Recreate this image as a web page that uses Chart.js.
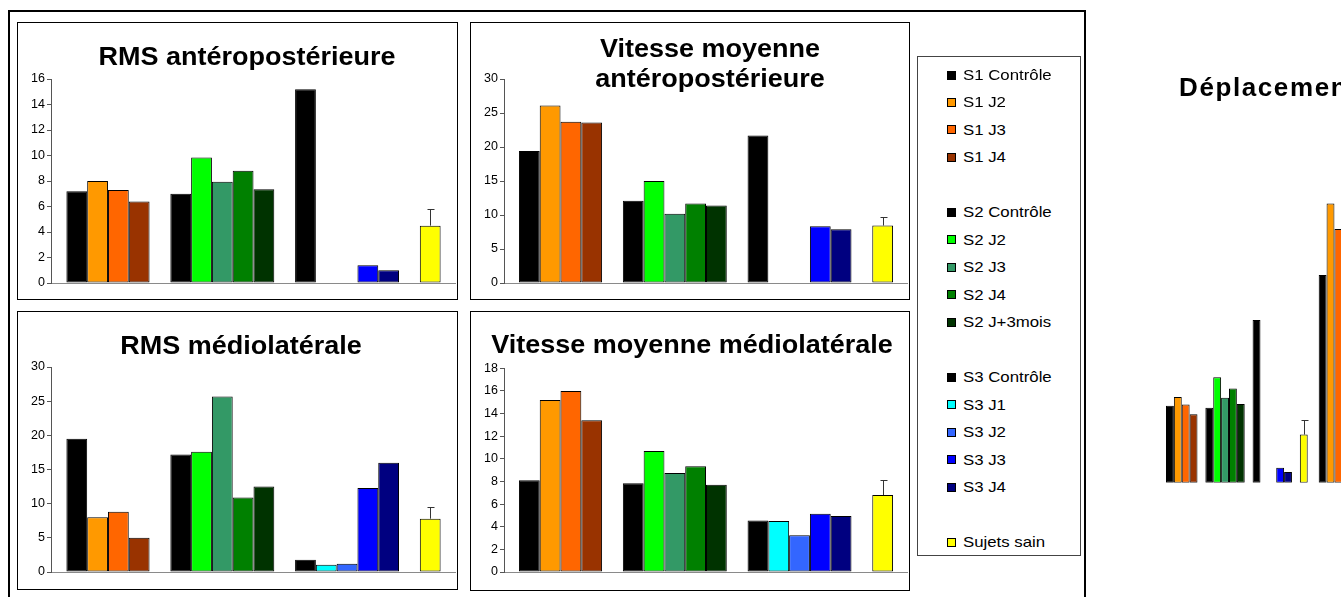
<!DOCTYPE html>
<html><head><meta charset="utf-8">
<script src="https://cdn.jsdelivr.net/npm/chart.js@4.4.1/dist/chart.umd.min.js"></script>
<style>
html,body{margin:0;padding:0;width:1341px;height:597px;overflow:hidden;background:#fff;font-family:"Liberation Sans",Arial,sans-serif;}
.frame{position:absolute;left:8px;top:10px;width:1074px;height:700px;border:2px solid #000;}
.panel{position:absolute;border:1px solid #000;box-sizing:border-box;}
.title{position:absolute;font-weight:bold;font-size:25px;line-height:25px;white-space:nowrap;text-align:center;transform-origin:50% 0;transform:translateX(-50%) scaleX(1.08);color:#000;}
canvas{position:absolute;}
.legend{position:absolute;left:917px;top:56px;width:164px;height:500px;border:1px solid #444;box-sizing:border-box;}
.li{position:absolute;left:947px;height:18px;display:flex;align-items:center;white-space:nowrap;}
.sw{width:9px;height:9px;border:1px solid #000;box-sizing:border-box;margin-right:7px;flex:none;}
.lt{font-size:15px;line-height:18px;transform-origin:0 50%;transform:scaleX(1.12);color:#000;}
.rtitle{position:absolute;left:1179px;top:74px;font-weight:bold;font-size:26px;line-height:27px;letter-spacing:1.6px;white-space:nowrap;color:#000;}
</style></head>
<body>
<div class="frame"></div>
<div class="panel" style="left:17px;top:22px;width:441px;height:278px"></div>
<div class="panel" style="left:470px;top:22px;width:440px;height:278px"></div>
<div class="panel" style="left:17px;top:311px;width:441px;height:279px"></div>
<div class="panel" style="left:470px;top:311px;width:440px;height:280px"></div>
<div class="legend"></div>
<canvas id="c0" width="437" height="274" style="left:19px;top:24px"></canvas>
<canvas id="c1" width="436" height="274" style="left:472px;top:24px"></canvas>
<canvas id="c2" width="438" height="275" style="left:18px;top:313px"></canvas>
<canvas id="c3" width="436" height="275" style="left:472px;top:313px"></canvas>
<canvas id="c4" width="800" height="400" style="left:1100px;top:100px"></canvas>
<div class="title" style="left:246.7px;top:43.8px">RMS antéropostérieure</div>
<div class="title" style="left:710px;top:33.3px;line-height:30px">Vitesse moyenne<br>antéropostérieure</div>
<div class="title" style="left:241.3px;top:332.8px">RMS médiolatérale</div>
<div class="title" style="left:692.3px;top:331.8px">Vitesse moyenne médiolatérale</div>
<div class="rtitle">Déplacement</div>
<div id="leg"></div>
<script>
// ---- DATA (per metric: RMS AP, Vitesse AP, RMS ML, Vitesse ML) ----
const metrics = ["RMS antéropostérieure", "Vitesse moyenne antéropostérieure", "RMS médiolatérale", "Vitesse moyenne médiolatérale"];
const seriesNames = ["S1 Contrôle", "S1 J2", "S1 J3", "S1 J4", "S2 Contrôle", "S2 J2", "S2 J3", "S2 J4", "S2 J+3mois", "S3 Contrôle", "S3 J1", "S3 J2", "S3 J3", "S3 J4", "Sujets sain"];
const s1Controle = [7.2, 19.4, 19.5, 8.1];
const s1J2 = [8.0, 26.1, 8.0, 15.2];
const s1J3 = [7.3, 23.7, 8.8, 16.0];
const s1J4 = [6.4, 23.6, 5.0, 13.4];
const s2Controle = [7.0, 12.1, 17.2, 7.85];
const s2J2 = [9.85, 15.0, 17.6, 10.7];
const s2J3 = [7.95, 10.2, 25.7, 8.75];
const s2J4 = [8.8, 11.7, 10.9, 9.35];
const s2J3mois = [7.35, 11.4, 12.5, 7.7];
const s3Controle = [15.2, 21.7, 1.8, 4.55];
const s3J1 = [null, null, 1.05, 4.5];
const s3J2 = [null, null, 1.2, 3.25];
const s3J3 = [1.4, 8.35, 12.3, 5.15];
const s3J4 = [1.0, 7.9, 16.0, 4.95];
const sain = [4.5, 8.45, 7.8, 6.8];
const sainErr = [1.33, 1.32, 1.7, 1.33];
const yMax = [16, 30, 30, 18];
const yStep = [2, 5, 5, 2];

const seriesValues = [s1Controle, s1J2, s1J3, s1J4, s2Controle, s2J2, s2J3, s2J4, s2J3mois, s3Controle, s3J1, s3J2, s3J3, s3J4, sain];
const colors = ["#000000", "#FF9900", "#FF6600", "#993300", "#000000", "#00FF00", "#339966", "#008000", "#003300", "#000000", "#00FFFF", "#3366FF", "#0000FF", "#000080", "#FFFF00"];
// slot order with empty gaps between subjects
const slotOrder = [0, 1, 2, 3, null, 4, 5, 6, 7, 8, null, 9, 10, 11, 12, 13, null, 14];
const SAIN_SLOT = 17;

const FONT = '"Liberation Sans", Arial, sans-serif';

function buildDatasets(metricIdx, catPct) {
  return slotOrder.map(s => {
    if (s === null) return { data: metricIdx.map(() => null), backgroundColor: 'rgba(0,0,0,0)', borderWidth: 0, categoryPercentage: catPct, barPercentage: 1 };
    return {
      label: seriesNames[s],
      data: metricIdx.map(m => seriesValues[s][m]),
      backgroundColor: colors[s], borderColor: '#000', borderWidth: 1, borderSkipped: false,
      categoryPercentage: catPct, barPercentage: 1
    };
  });
}

function errPlugin(metricIdx) {
  return {
    id: 'errbar',
    afterDatasetsDraw(chart) {
      const meta = chart.getDatasetMeta(SAIN_SLOT);
      const ys = chart.scales.y;
      const ctx = chart.ctx;
      ctx.save();
      ctx.strokeStyle = '#333'; ctx.lineWidth = 1;
      meta.data.forEach((el, i) => {
        const m = metricIdx[i];
        const v = sain[m], e = sainErr[m];
        const x = Math.round(el.x) + 0.5;
        const y0 = ys.getPixelForValue(v), y1 = Math.round(ys.getPixelForValue(v + e)) + 0.5;
        ctx.beginPath();
        ctx.moveTo(x, y0); ctx.lineTo(x, y1);
        ctx.moveTo(x - 3, y1); ctx.lineTo(x + 4, y1);
        ctx.stroke();
      });
      ctx.restore();
    }
  };
}

const panelCfg = [
  { id: 'c0', m: 0, yW: 32, pad: { top: 55, bottom: 15, left: 0, right: 0 }, cat: 0.924 },
  { id: 'c1', m: 1, yW: 32, pad: { top: 55, bottom: 15, left: 0, right: 0 }, cat: 0.926 },
  { id: 'c2', m: 2, yW: 33, pad: { top: 54, bottom: 16, left: 0, right: 0 }, cat: 0.924 },
  { id: 'c3', m: 3, yW: 32, pad: { top: 55.3, bottom: 16, left: 0, right: 0 }, cat: 0.926 }
];

panelCfg.forEach(p => {
  new Chart(document.getElementById(p.id), {
    type: 'bar',
    data: { labels: [metrics[p.m]], datasets: buildDatasets([p.m], p.cat) },
    options: {
      responsive: false, animation: false, devicePixelRatio: 1,
      layout: { padding: p.pad },
      plugins: { legend: { display: false }, tooltip: { enabled: false }, title: { display: false } },
      scales: {
        x: {
          display: true, grid: { display: false }, ticks: { display: false },
          border: { display: true, color: '#8a8a8a', width: 1 },
          afterFit(s) { s.height = 0; }
        },
        y: {
          min: 0, max: yMax[p.m],
          ticks: { stepSize: yStep[p.m], padding: 2, color: '#000', font: { family: FONT, size: 12.5 } },
          grid: { display: true, drawOnChartArea: false, drawTicks: true, tickLength: 4, color: '#555' },
          border: { display: true, color: '#555', width: 1 },
          afterFit(s) { s.width = p.yW; }
        }
      }
    },
    plugins: [errPlugin([p.m])]
  });
});

// right-hand partial chart (same data, all metrics as categories)
const allMetrics = [0, 1, 2, 3];
new Chart(document.getElementById('c4'), {
  type: 'bar',
  data: { labels: metrics, datasets: buildDatasets(allMetrics, 0.928) },
  options: {
    responsive: false, animation: false, devicePixelRatio: 1,
    layout: { padding: { top: 61.7, bottom: 17.3, left: 60.5, right: 128.7 } },
    plugins: { legend: { display: false }, tooltip: { enabled: false } },
    scales: {
      x: { display: false },
      y: { display: false, min: 0, max: 30 }
    }
  },
  plugins: [errPlugin(allMetrics)]
});

// legend (HTML, rows with blank separators)
const legendRows = [0, 1, 2, 3, null, 4, 5, 6, 7, 8, null, 9, 10, 11, 12, 13, null, 14];
const leg = document.getElementById('leg');
legendRows.forEach((s, k) => {
  if (s === null) return;
  const cy = 75 + k * 27.49;
  const d = document.createElement('div');
  d.className = 'li';
  d.style.top = (cy - 9) + 'px';
  d.innerHTML = '<div class="sw" style="background:' + colors[s] + '"></div><span class="lt">' + seriesNames[s] + '</span>';
  leg.appendChild(d);
});
</script>
</body></html>
